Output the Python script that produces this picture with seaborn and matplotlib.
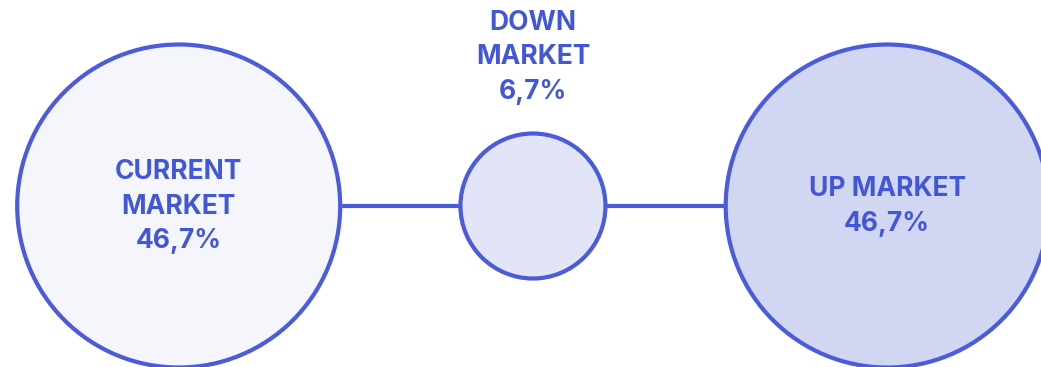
import matplotlib
matplotlib.use("Agg")
import matplotlib.pyplot as plt
import seaborn as sns
import pandas as pd

# Scenario shares
scenarios = ["CURRENT MARKET", "DOWN MARKET", "UP MARKET"]
shares = [46.7, 6.7, 46.7]
labels = ["CURRENT\nMARKET\n46,7%", "DOWN\nMARKET\n6,7%", "UP MARKET\n46,7%"]

fills = ["#f5f6fc", "#e2e5f8", "#d1d6f3"]
stroke = "#4a5bdc"
text_color = "#4257d8"

sns.set_theme(style="white")
plt.rcParams["font.family"] = ["Inter", "DejaVu Sans"]

df = pd.DataFrame({"scenario": scenarios, "share": shares,
                   "pos": range(len(scenarios)), "y": [0] * len(scenarios)})

DPI = 100
fig = plt.figure(figsize=(10.41, 3.67), dpi=DPI)
ax = fig.add_axes([0, 0, 1, 1])

# connecting line behind the bubbles
ax.plot([df["pos"].min(), df["pos"].max()], [0, 0], color=stroke, lw=3.0,
        zorder=1, solid_capstyle="butt")

# bubble sizes (marker area, pt^2) for radii of ~72.5 px and ~161.5 px
def area(r_px):
    return (2 * r_px * 72 / DPI) ** 2

sns.scatterplot(data=df, x="pos", y="y", hue="scenario", palette=fills,
                size="share", sizes=(area(72.5), area(161.5)),
                edgecolor=stroke, linewidth=3.0, legend=False,
                ax=ax, zorder=2, alpha=1)

px_per_unit = 354.25
ax.set_xlim(-178.7 / px_per_unit, (1041 - 178.7) / px_per_unit)
ax.set_ylim(-(367 - 206), 206)
ax.axis("off")

for i, row in df.iterrows():
    offset = 107 if row["scenario"] == "DOWN MARKET" else -0.5
    ax.annotate(labels[i], (row["pos"], 0), xytext=(0, offset),
                textcoords="offset points", ha="center", va="center",
                fontsize=19, fontweight="bold", color=text_color,
                linespacing=1.43, zorder=3)

fig.savefig("out.png", dpi=DPI)
